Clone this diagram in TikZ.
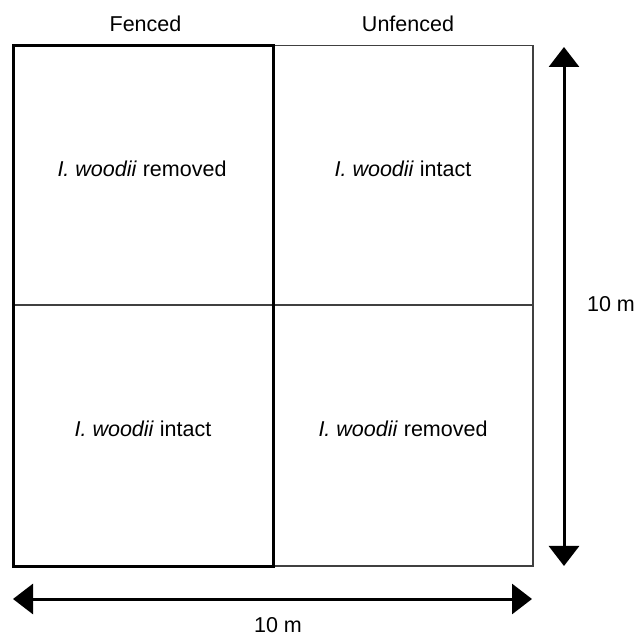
\documentclass[tikz,border=0pt]{standalone}
\usepackage{fontspec}
\setmainfont{Liberation Sans}
\usetikzlibrary{arrows.meta}
\begin{document}
\begin{tikzpicture}[x=1pt,y=-1pt,
  lbl/.style={anchor=base,inner sep=0pt,font=\fontsize{21.5}{25}\selectfont},
  thinline/.style={line width=1.2pt,draw=black!75},
  thickline/.style={line width=3pt,draw=black},
  dimarrow/.style={line width=3pt,{Triangle[length=20pt,width=30pt]}-{Triangle[length=20pt,width=30pt]}}]
\useasboundingbox (0,0) rectangle (638,636);
% corners
\coordinate (tl) at (13.5,45.5);
\coordinate (tm) at (273,45.5);
\coordinate (tr) at (533,45.5);
\coordinate (ml) at (13.5,305);
\coordinate (mr) at (533,305);
\coordinate (bl) at (13.5,566);
\coordinate (bm) at (273,566);
\coordinate (br) at (533,566);
% thin outer box and middle line
\draw[thinline] (tm) -- (tr) -- (br) -- (bm);
\draw[thinline] (ml) -- (mr);
% fenced box
\draw[thickline] (tl) rectangle (bm);
% labels
\node[lbl] (fenced) at (145.5,32) {Fenced};
\node[lbl] (unfenced) at (408,32) {Unfenced};
\node[lbl] (q1) at (142,177) {\textit{I. woodii} removed};
\node[lbl] (q2) at (403,177) {\textit{I. woodii} intact};
\node[lbl] (q3) at (143,437) {\textit{I. woodii} intact};
\node[lbl] (q4) at (403,437) {\textit{I. woodii} removed};
\node[lbl] (dimv) at (611,312) {10 m};
\node[lbl] (dimh) at (278,632) {10 m};
% dimension arrows
\coordinate (vtop) at (564,47);
\coordinate (vbot) at (564,566);
\coordinate (hleft) at (13,599);
\coordinate (hright) at (532,599);
\draw[dimarrow] (vtop) -- (vbot);
\draw[dimarrow] (hleft) -- (hright);
\end{tikzpicture}
\end{document}
